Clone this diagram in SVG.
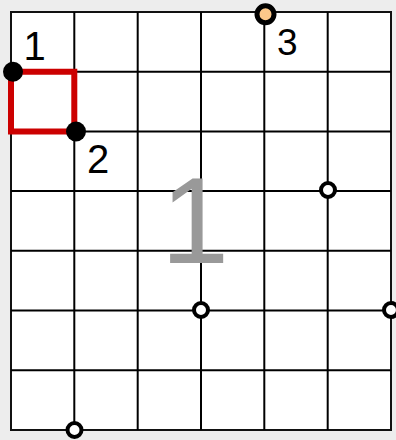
<svg xmlns="http://www.w3.org/2000/svg" width="396" height="440" viewBox="0 0 396 440">
  <style>
    .grid line { stroke: #000; stroke-width: 2; }
    .lbl { font-family: "Liberation Sans", Arial, sans-serif; fill: #000; }
    .open { fill: #fff; stroke: #000; stroke-width: 4; }
    .dot { fill: #000; }
  </style>
  <rect x="0" y="0" width="396" height="440" fill="#ededed"/>
  <g id="grid" class="grid">
    <rect x="11" y="12" width="380" height="418" fill="#fff" stroke="#111" stroke-width="2"/>
    <line x1="74.3" y1="12" x2="74.3" y2="430"/>
    <line x1="137.7" y1="12" x2="137.7" y2="430"/>
    <line x1="201" y1="12" x2="201" y2="430"/>
    <line x1="264.3" y1="12" x2="264.3" y2="430"/>
    <line x1="327.7" y1="12" x2="327.7" y2="430"/>
    <line x1="11" y1="71.7" x2="391" y2="71.7"/>
    <line x1="11" y1="131.4" x2="391" y2="131.4"/>
    <line x1="11" y1="191" x2="391" y2="191"/>
    <line x1="11" y1="250.8" x2="391" y2="250.8"/>
    <line x1="11" y1="310.5" x2="391" y2="310.5"/>
    <line x1="11" y1="370.3" x2="391" y2="370.3"/>
  </g>
  <text id="big-label" x="195" y="263" text-anchor="middle" font-family="Liberation Sans, Arial, sans-serif" font-size="123" fill="#999999">1</text>
  <g id="connectors">
    <path d="M11,71.7 H74.3 V131.4 H11 Z" fill="none" stroke="#cc0000" stroke-width="6"/>
  </g>
  <g id="node-1">
    <circle class="dot" cx="13" cy="71.7" r="10"/>
    <text class="lbl" x="23.5" y="60" font-size="40">1</text>
  </g>
  <g id="node-2">
    <circle class="dot" cx="76" cy="131.5" r="10"/>
    <text class="lbl" x="87" y="173" font-size="40">2</text>
  </g>
  <g id="node-3">
    <circle cx="265.5" cy="14.2" r="8.5" fill="#fcc88a" stroke="#000" stroke-width="5"/>
    <text class="lbl" x="277" y="55" font-size="37">3</text>
  </g>
  <g id="node-a"><circle class="open" cx="328" cy="190" r="7"/></g>
  <g id="node-b"><circle class="open" cx="201" cy="310" r="7"/></g>
  <g id="node-c"><circle class="open" cx="391" cy="310" r="7"/></g>
  <g id="node-d"><circle class="open" cx="74.5" cy="430" r="7"/></g>
</svg>
